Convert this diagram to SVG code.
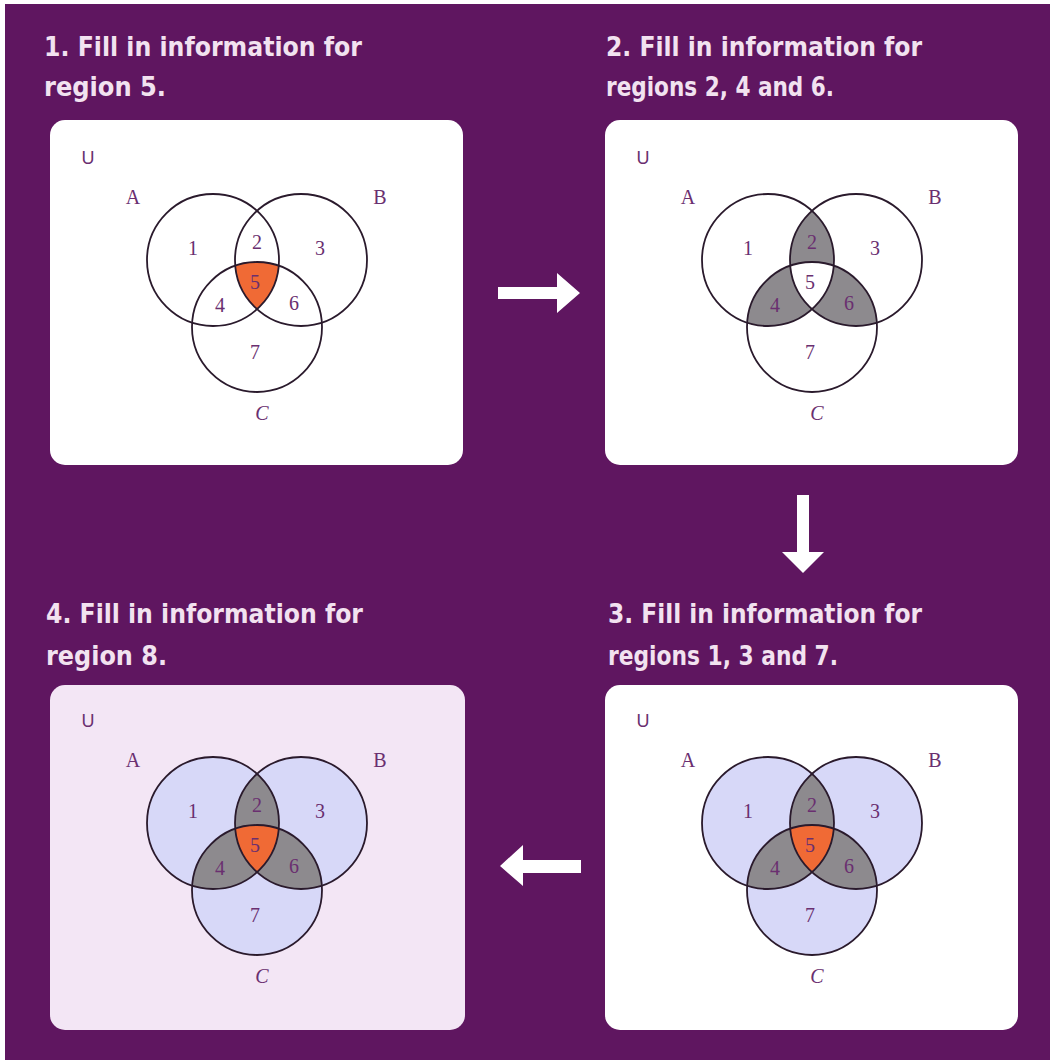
<svg xmlns="http://www.w3.org/2000/svg" width="1050" height="1060" viewBox="0 0 1050 1060">
<style>
.bg{fill:#5f1660}
.panel{fill:#ffffff}
.panel4{fill:#f3e6f5}
.title{font-family:"DejaVu Sans Condensed","DejaVu Sans",sans-serif;font-weight:bold;font-size:27px;fill:#f2e2f0}
.ring{fill:none;stroke:#2a1a2c;stroke-width:1.8}
.lav{fill:#d7d8f8}
.gray{fill:#8d8a8e}
.org{fill:#f06a35}
.wht{fill:#ffffff}
.lbl{font-family:"Liberation Serif","DejaVu Serif",serif;font-size:20px;fill:#6a2f70;text-anchor:middle}
.ital{font-style:italic}
.u{font-family:"Liberation Sans","DejaVu Sans",sans-serif;font-size:18px;fill:#6a2f70;text-anchor:middle}
.arrow{fill:#ffffff}
</style>
<defs>
<clipPath id="cA" clipPathUnits="userSpaceOnUse"><circle cx="213" cy="260" r="66"/></clipPath>
<clipPath id="cB" clipPathUnits="userSpaceOnUse"><circle cx="301" cy="260" r="66"/></clipPath>
</defs>
<rect x="0" y="0" width="1050" height="1060" fill="#ffffff"/>
<rect class="bg" x="5" y="4" width="1045" height="1056"/>

<g id="step1">
<text class="title" x="44" y="56" textLength="318" lengthAdjust="spacingAndGlyphs">1. Fill in information for</text>
<text class="title" x="44" y="96" textLength="122" lengthAdjust="spacingAndGlyphs">region 5.</text>
<rect class="panel" x="50" y="120" width="413" height="345" rx="15"/>
<g>
<g clip-path="url(#cA)"><circle class="org" cx="257" cy="327" r="65" clip-path="url(#cB)"/></g>
<circle class="ring" cx="213" cy="260" r="66"/>
<circle class="ring" cx="301" cy="260" r="66"/>
<circle class="ring" cx="257" cy="327" r="65"/>
<text class="u" x="88" y="164">U</text>
<text class="lbl" x="133" y="204">A</text>
<text class="lbl" x="380" y="204">B</text>
<text class="lbl ital" x="262" y="420">C</text>
<text class="lbl" x="193" y="255">1</text>
<text class="lbl" x="257" y="249">2</text>
<text class="lbl" x="320" y="255">3</text>
<text class="lbl" x="220" y="312">4</text>
<text class="lbl" x="255" y="289">5</text>
<text class="lbl" x="294" y="310">6</text>
<text class="lbl" x="255" y="359">7</text>
</g>
</g>

<g id="step2">
<text class="title" x="606" y="56" textLength="316" lengthAdjust="spacingAndGlyphs">2. Fill in information for</text>
<text class="title" x="606" y="96" textLength="228" lengthAdjust="spacingAndGlyphs">regions 2, 4 and 6.</text>
<rect class="panel" x="605" y="120" width="413" height="345" rx="15"/>
<g transform="translate(555,0)">
<circle class="gray" cx="301" cy="260" r="66" clip-path="url(#cA)"/>
<circle class="gray" cx="257" cy="327" r="65" clip-path="url(#cA)"/>
<circle class="gray" cx="257" cy="327" r="65" clip-path="url(#cB)"/>
<g clip-path="url(#cA)"><circle class="wht" cx="257" cy="327" r="65" clip-path="url(#cB)"/></g>
<circle class="ring" cx="213" cy="260" r="66"/>
<circle class="ring" cx="301" cy="260" r="66"/>
<circle class="ring" cx="257" cy="327" r="65"/>
<text class="u" x="88" y="164">U</text>
<text class="lbl" x="133" y="204">A</text>
<text class="lbl" x="380" y="204">B</text>
<text class="lbl ital" x="262" y="420">C</text>
<text class="lbl" x="193" y="255">1</text>
<text class="lbl" x="257" y="249">2</text>
<text class="lbl" x="320" y="255">3</text>
<text class="lbl" x="220" y="312">4</text>
<text class="lbl" x="255" y="289">5</text>
<text class="lbl" x="294" y="310">6</text>
<text class="lbl" x="255" y="359">7</text>
</g>
</g>

<g id="step3">
<text class="title" x="608" y="623" textLength="314" lengthAdjust="spacingAndGlyphs">3. Fill in information for</text>
<text class="title" x="608" y="665" textLength="230" lengthAdjust="spacingAndGlyphs">regions 1, 3 and 7.</text>
<rect class="panel" x="605" y="685" width="413" height="345" rx="15"/>
<g transform="translate(555,563)">
<circle class="lav" cx="213" cy="260" r="66"/>
<circle class="lav" cx="301" cy="260" r="66"/>
<circle class="lav" cx="257" cy="327" r="65"/>
<circle class="gray" cx="301" cy="260" r="66" clip-path="url(#cA)"/>
<circle class="gray" cx="257" cy="327" r="65" clip-path="url(#cA)"/>
<circle class="gray" cx="257" cy="327" r="65" clip-path="url(#cB)"/>
<g clip-path="url(#cA)"><circle class="org" cx="257" cy="327" r="65" clip-path="url(#cB)"/></g>
<circle class="ring" cx="213" cy="260" r="66"/>
<circle class="ring" cx="301" cy="260" r="66"/>
<circle class="ring" cx="257" cy="327" r="65"/>
<text class="u" x="88" y="164">U</text>
<text class="lbl" x="133" y="204">A</text>
<text class="lbl" x="380" y="204">B</text>
<text class="lbl ital" x="262" y="420">C</text>
<text class="lbl" x="193" y="255">1</text>
<text class="lbl" x="257" y="249">2</text>
<text class="lbl" x="320" y="255">3</text>
<text class="lbl" x="220" y="312">4</text>
<text class="lbl" x="255" y="289">5</text>
<text class="lbl" x="294" y="310">6</text>
<text class="lbl" x="255" y="359">7</text>
</g>
</g>

<g id="step4">
<text class="title" x="46" y="623" textLength="317" lengthAdjust="spacingAndGlyphs">4. Fill in information for</text>
<text class="title" x="46" y="665" textLength="121" lengthAdjust="spacingAndGlyphs">region 8.</text>
<rect class="panel4" x="50" y="685" width="415" height="345" rx="15"/>
<g transform="translate(0,563)">
<circle class="lav" cx="213" cy="260" r="66"/>
<circle class="lav" cx="301" cy="260" r="66"/>
<circle class="lav" cx="257" cy="327" r="65"/>
<circle class="gray" cx="301" cy="260" r="66" clip-path="url(#cA)"/>
<circle class="gray" cx="257" cy="327" r="65" clip-path="url(#cA)"/>
<circle class="gray" cx="257" cy="327" r="65" clip-path="url(#cB)"/>
<g clip-path="url(#cA)"><circle class="org" cx="257" cy="327" r="65" clip-path="url(#cB)"/></g>
<circle class="ring" cx="213" cy="260" r="66"/>
<circle class="ring" cx="301" cy="260" r="66"/>
<circle class="ring" cx="257" cy="327" r="65"/>
<text class="u" x="88" y="164">U</text>
<text class="lbl" x="133" y="204">A</text>
<text class="lbl" x="380" y="204">B</text>
<text class="lbl ital" x="262" y="420">C</text>
<text class="lbl" x="193" y="255">1</text>
<text class="lbl" x="257" y="249">2</text>
<text class="lbl" x="320" y="255">3</text>
<text class="lbl" x="220" y="312">4</text>
<text class="lbl" x="255" y="289">5</text>
<text class="lbl" x="294" y="310">6</text>
<text class="lbl" x="255" y="359">7</text>
</g>
</g>

<g id="connectors">
<polygon class="arrow" points="498,287 557,287 557,273 580,293 557,313 557,299 498,299"/>
<polygon class="arrow" points="797,495 809,495 809,552 824,552 803,573 782,552 797,552"/>
<polygon class="arrow" points="581,860 523,860 523,845 500,866 523,886 523,873 581,873"/>
</g>
</svg>
